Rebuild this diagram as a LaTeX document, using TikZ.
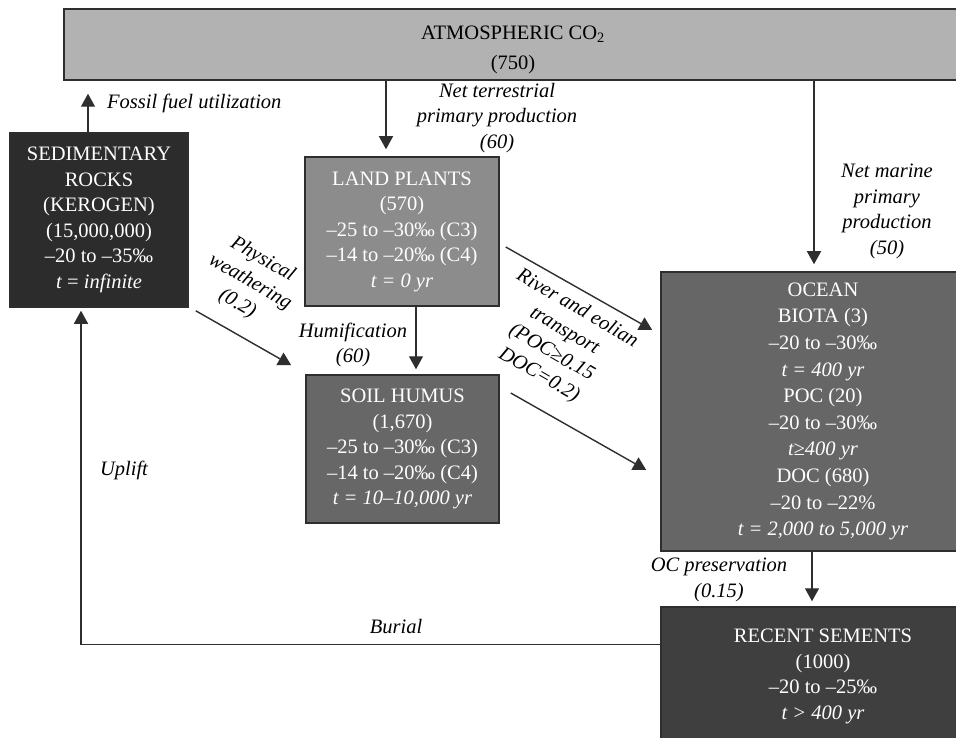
\documentclass[tikz,border=0pt]{standalone}
\usepackage{fontspec}
\setmainfont{Liberation Serif}
\usetikzlibrary{arrows.meta}

\definecolor{atmgray}{HTML}{B2B2B2}
\definecolor{sedgray}{HTML}{2C2C2C}
\definecolor{landgray}{HTML}{8C8C8C}
\definecolor{soilgray}{HTML}{676767}
\definecolor{oceangray}{HTML}{666666}
\definecolor{recentgray}{HTML}{3F3F3F}
\definecolor{linecol}{HTML}{2E2E2E}

\newcommand{\poolsize}{\fontsize{20.5}{25.5}\selectfont}

\tikzset{
	pool/.style={draw=linecol, line width=1.5pt, text=white, align=center, inner sep=0pt},
	flow/.style={-{Triangle[length=13pt,width=14pt]}, line width=1.4pt, draw=linecol, shorten >=6pt},
	lbl/.style={font=\poolsize\itshape, align=center, inner sep=0pt}
}

\begin{document}
\begin{tikzpicture}[x=1pt, y=-1pt, font=\poolsize]
	\clip (0, 0) rectangle (956, 738);
	% carbon pools
	\node (atm) at (513, 44.5) [pool, fill=atmgray, text=black, minimum width=898pt, minimum height=71pt] {\rule{0pt}{24pt}ATMOSPHERIC CO\textsubscript{2}\\[4pt](750)};
	\node (sed) at (99, 220) [pool, fill=sedgray, minimum width=178pt, minimum height=174pt] {SEDIMENTARY\\ROCKS\\(KEROGEN)\\(15,000,000)\\–20 to –35‰\\\textit{t} = \textit{infinite}};
	\node (land) at (402, 231.5) [pool, fill=landgray, minimum width=194pt, minimum height=149pt] {LAND PLANTS\\(570)\\–25 to –30‰ (C3)\\–14 to –20‰ (C4)\\\textit{t = 0 yr}};
	\node (soil) at (402.5, 449) [pool, fill=soilgray, minimum width=193pt, minimum height=148pt] {SOIL HUMUS\\(1,670)\\–25 to –30‰ (C3)\\–14 to –20‰ (C4)\\\textit{t = 10–10,000 yr}};
	\node (ocean) at (823, 411.5) [pool, fill=oceangray, minimum width=324pt, minimum height=279pt, font=\fontsize{20.5}{26.6}\selectfont] {OCEAN\\BIOTA (3)\\–20 to –30‰\\\textit{t = 400 yr}\\POC (20)\\–20 to –30‰\\\textit{t≥400 yr}\\DOC (680)\\–20 to –22\%\\\textit{t = 2,000 to 5,000 yr}};
	\node (recent) at (823, 676.5) [pool, fill=recentgray, minimum width=324pt, minimum height=139pt] {RECENT SEMENTS\\(1000)\\–20 to –25‰\\\textit{t > 400 yr}};

	% fluxes
	\coordinate (fossil) at ([shift={(-11,0)}]sed.north);
	\coordinate (ntp) at ([shift={(-16,0)}]land.north);
	\coordinate (nmp) at ([shift={(-9,0)}]ocean.north);
	\coordinate (hum) at ([shift={(14,0)}]land.south);
	\coordinate (ocp) at ([shift={(-11,0)}]ocean.south);
	\draw [flow, shorten >=13pt] (fossil) -- (fossil |- atm.south);
	\draw [flow, shorten >=7pt] (ntp |- atm.south) -- (ntp);
	\draw [flow, shorten >=7pt] (nmp |- atm.south) -- (nmp);
	\draw [flow, shorten >=5pt] (hum) -- (hum |- soil.north);
	\draw [flow, shorten >=5pt] (ocp) -- (ocp |- recent.north);
	\draw [flow, shorten >=0pt] ([shift={(7,3)}]sed.south east) -- ([shift={(-14,-9)}]soil.north west);
	\draw [flow, shorten >=0pt] ([shift={(6,15.5)}]land.east) -- ([shift={(-8,-81.5)}]ocean.west);
	\draw [flow, shorten >=0pt] ([shift={(11,-56)}]soil.east) -- ([shift={(-14,58.5)}]ocean.west);
	\draw [flow, shorten >=3pt] ([shift={(0,38)}]recent.north west) -| ([shift={(-18,0)}]sed.south);

	% flux labels
	\node (fossillbl) at (107, 103) [lbl, anchor=west] {Fossil fuel utilization};
	\node (ntplbl) at (497, 118) [lbl] {Net terrestrial\\primary production\\(60)};
	\node (nmplbl) at (887, 211.5) [lbl] {Net marine\\primary\\production\\(50)};
	\node (humlbl) at (353, 345) [lbl] {Humification\\(60)};
	\node (weathlbl) at (250, 282) [lbl, rotate=-30] {Physical\\weathering\\(0.2)};
	\node (riverlbl) at (558, 342) [lbl, rotate=-30] {River and eolian\\transport\\(POC≥0.15\\DOC=0.2)};
	\node (ocplbl) at (719, 580) [lbl] {OC preservation\\(0.15)};
	\node (buriallbl) at (396, 627) [lbl] {Burial};
	\node (upliftlbl) at (124, 470) [lbl] {Uplift};
\end{tikzpicture}
\end{document}
